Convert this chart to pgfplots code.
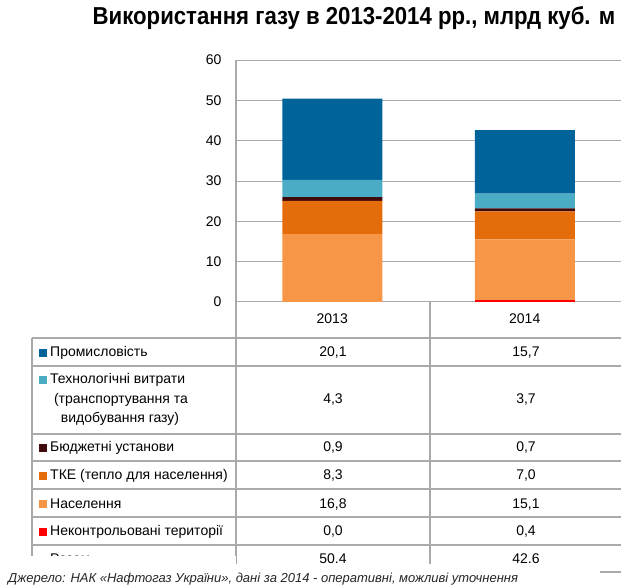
\documentclass[border=0pt]{standalone}
\usepackage{pgfplots}
\pgfplotsset{compat=1.18}
\usepackage{fontspec}
\setmainfont{Liberation Sans}
\newfontfamily\titlefont[FakeStretch=0.905]{Liberation Sans}
\definecolor{prom}{RGB}{0,99,153}
\definecolor{tech}{RGB}{75,172,198}
\definecolor{budg}{RGB}{64,10,10}
\definecolor{tke}{RGB}{228,108,10}
\definecolor{nas}{RGB}{247,150,70}
\definecolor{nek}{RGB}{255,0,0}
\definecolor{gridgray}{RGB}{170,170,170}
\newcommand{\fs}{\fontsize{14}{16.8}\selectfont}
\newcommand{\sq}[1]{{\color{#1}\rule{8pt}{8pt}}\hspace{3pt}}
\begin{document}
\begin{tikzpicture}[x=1pt,y=1pt]
\useasboundingbox (0,0) rectangle (641,-588);
\node[anchor=base, inner sep=0, font=\titlefont\fontsize{24.5}{30}\selectfont\bfseries] at (354,-25) {Використання газу в 2013-2014 рр., млрд куб. м};
\begin{axis}[at={(236pt,-302pt)}, anchor=south west, scale only axis,
  width=385pt, height=242pt, xmin=-0.5, xmax=1.5, ymin=0, ymax=60,
  ybar stacked, bar width=100pt,
  axis line style={draw=none}, ymajorgrids,
  grid style={draw=gridgray, line width=1pt},
  major tick length=0pt, ytick={0,10,...,60}, xtick={0,1}, xticklabels={2013,2014},
  tick label style={font=\fs}, /pgf/number format/assume math mode=true,
  yticklabel style={xshift=-11pt}, xticklabel style={yshift=-8pt}]
\addplot[fill=nek, draw=none] coordinates {(0,0.0) (1,0.4)};
\addplot[fill=nas, draw=none] coordinates {(0,16.8) (1,15.1)};
\addplot[fill=tke, draw=none] coordinates {(0,8.3) (1,7.0)};
\addplot[fill=budg, draw=none] coordinates {(0,0.9) (1,0.7)};
\addplot[fill=tech, draw=none] coordinates {(0,4.3) (1,3.7)};
\addplot[fill=prom, draw=none] coordinates {(0,20.1) (1,15.7)};
\end{axis}
% table grid
\begin{scope}[draw=gridgray, line width=1.2pt]
\draw (236,-60) -- (236,-565);
\draw (430,-302) -- (430,-565);
\draw (32,-338) -- (32,-565);
\foreach \y in {338,366,434,461,489,517,545} \draw (32,-\y) -- (621,-\y);
\end{scope}
% row labels
\begin{scope}[every node/.style={inner sep=0, font=\fs}]
\node[anchor=base west] at (39,-357) {\sq{prom}Промисловість};
\node[anchor=base west] at (39,-384) {\sq{tech}Технологічні витрати};
\node[anchor=base] at (121,-404) {(транспортування та};
\node[anchor=base] at (120,-423) {видобування газу)};
\node[anchor=base west] at (39,-452) {\sq{budg}Бюджетні установи};
\node[anchor=base west] at (39,-480) {\sq{tke}ТКЕ (тепло для населення)};
\node[anchor=base west] at (39,-508) {\sq{nas}Населення};
\node[anchor=base west] at (39,-536) {\sq{nek}Неконтрольовані території};
\node[anchor=base west] at (50,-563) {Разом};
\foreach \y/\a/\b in {357/20{,}1/15{,}7, 404/4{,}3/3{,}7, 452/0{,}9/0{,}7, 480/8{,}3/7{,}0, 508/16{,}8/15{,}1, 536/0{,}0/0{,}4, 563/50.4/42.6}
 {\node[anchor=base] at (333,-\y) {\a}; \node[anchor=base] at (526,-\y) {\b};}
\end{scope}
% cover of the cut-off bottom
\fill[white] (20,-556) rectangle (236,-588);
\fill[white] (236,-564) rectangle (641,-588);
\draw[gridgray, line width=1.2pt] (600,-572) -- (621,-572);
\node[anchor=base west, inner sep=0, font=\fontsize{13}{15}\selectfont\itshape, text=black!85] at (8,-582) {Джерело: НАК «Нафтогаз України», дані за 2014 - оперативні, можливі уточнення};
\end{tikzpicture}
\end{document}
